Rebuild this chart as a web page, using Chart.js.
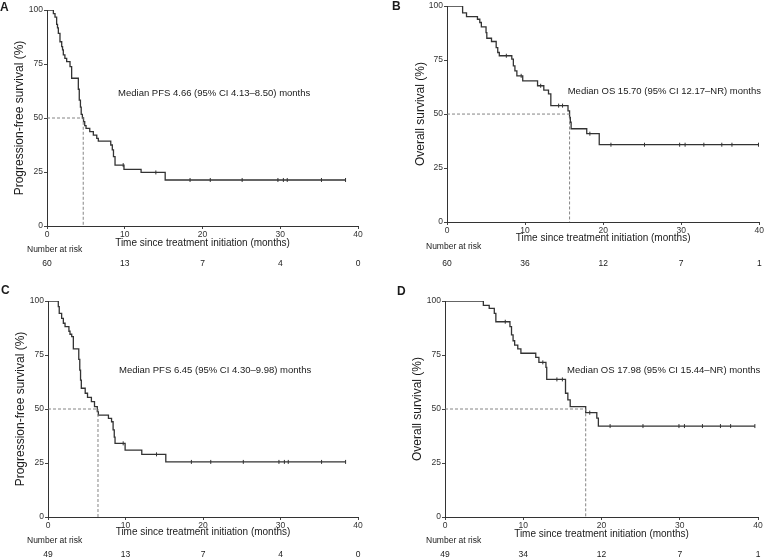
<!DOCTYPE html>
<html>
<head>
<meta charset="utf-8">
<script src="https://cdn.jsdelivr.net/npm/chart.js@4.4.0/dist/chart.umd.min.js"></script>
<style>
  html, body { margin: 0; padding: 0; background: #fff; }
  #wrap { position: relative; width: 765px; height: 558px; }
  canvas { position: absolute; }
</style>
</head>
<body>
<div id="wrap">
  <canvas id="chartA" width="382" height="279" style="left:0;top:0"></canvas>
  <canvas id="chartB" width="383" height="279" style="left:382px;top:0"></canvas>
  <canvas id="chartC" width="382" height="279" style="left:0;top:279px"></canvas>
  <canvas id="chartD" width="383" height="279" style="left:382px;top:279px"></canvas>
</div>
<script>
// shared axis ticks / risk-table times
const riskTimes = [0, 10, 20, 30, 40];

// A - progression-free survival, cohort 1
const timeA = [0, 0.82, 1.03, 1.24, 1.35, 1.46, 1.67, 1.89, 2.0, 2.1, 2.3, 2.53, 2.96, 3.17, 4.03, 4.15, 4.3, 4.4, 4.55, 4.7, 4.85, 5.02, 5.5, 5.96, 6.4, 6.6, 8.2, 8.4, 8.55, 8.75, 9.9, 12.1, 15.2, 38.4];
const survA = [100, 98.3, 96.7, 93.3, 91.7, 89.2, 85.3, 83.0, 81.5, 79.2, 77.6, 76.1, 73.8, 68.4, 63.3, 58.3, 55.0, 51.7, 50.0, 48.3, 46.5, 45.2, 43.7, 42.1, 40.6, 39.3, 37.5, 35.2, 32.1, 28.2, 26.2, 24.8, 21.3, 21.3];
const censorA = [9.8, 14.0, 18.4, 21.0, 25.1, 29.7, 30.4, 30.9, 35.3, 38.4];
const riskA = [60, 13, 7, 4, 0];
const medianA = 4.66;

// B - overall survival, cohort 1
const timeB = [0, 2.0, 2.5, 3.9, 4.2, 4.4, 5.0, 5.1, 5.7, 6.3, 6.5, 6.7, 8.3, 8.5, 8.7, 8.95, 9.7, 11.6, 12.4, 13.0, 13.3, 15.5, 15.7, 15.8, 15.9, 17.9, 19.5, 39.9];
const survB = [100, 96.9, 95.1, 93.9, 92.4, 90.4, 87.7, 85.1, 83.6, 80.8, 78.5, 77.0, 75.4, 72.3, 70.0, 67.7, 65.4, 63.1, 61.1, 59.3, 53.9, 51.5, 48.5, 46.2, 43.2, 40.9, 35.8, 35.8];
const censorB = [7.6, 9.5, 12.0, 14.3, 14.8, 18.3, 21.0, 25.3, 29.8, 30.5, 32.9, 35.2, 36.5, 39.9];
const riskB = [60, 36, 12, 7, 1];
const medianB = 15.70;

// C - progression-free survival, cohort 2
const timeC = [0, 1.33, 1.45, 1.76, 1.98, 2.2, 2.7, 2.84, 3.06, 3.27, 3.97, 4.1, 4.2, 4.3, 4.8, 5.1, 5.6, 6.0, 6.36, 6.5, 7.8, 8.2, 8.4, 8.55, 8.65, 9.95, 12.1, 15.2, 38.4];
const survC = [100, 97.4, 94.3, 92.0, 89.7, 88.1, 86.0, 84.6, 83.5, 77.8, 73.0, 68.0, 63.4, 59.6, 57.3, 55.4, 53.4, 51.1, 48.8, 47.2, 45.7, 44.1, 40.3, 37.0, 34.1, 31.0, 29.0, 25.5, 25.5];
const censorC = [9.7, 14.0, 18.5, 21.0, 25.2, 29.8, 30.5, 31.0, 35.3, 38.4];
const riskC = [49, 13, 7, 4, 0];
const medianC = 6.45;

// D - overall survival, cohort 2
const timeD = [0, 4.9, 5.65, 6.3, 6.5, 8.3, 8.5, 8.7, 8.9, 9.3, 9.7, 11.6, 12.0, 12.9, 13.0, 15.4, 15.7, 16.0, 17.98, 19.4, 19.6, 39.6];
const survD = [100, 98.0, 96.6, 94.3, 90.4, 88.1, 84.3, 81.6, 79.6, 77.8, 75.8, 73.9, 71.6, 69.3, 63.7, 57.3, 54.2, 51.1, 48.3, 45.8, 42.1, 42.1];
const censorD = [7.7, 12.5, 14.3, 15.0, 18.5, 21.1, 25.3, 29.9, 30.6, 32.9, 35.2, 36.5, 39.6];
const riskD = [49, 34, 12, 7, 1];
const medianD = 17.98;

const PFS_TITLE = 'Progression-free survival (%)';
const OS_TITLE = 'Overall survival (%)';
const X_TITLE = 'Time since treatment initiation (months)';
const FONT = '"Liberation Sans", Arial, Helvetica, sans-serif';

function survivalAt(times, surv, t) {
  let s = surv[0];
  for (let i = 0; i < times.length; i++) {
    if (times[i] <= t) s = surv[i];
  }
  return s;
}

const panelText = {
  id: 'panelText',
  afterDraw(chart, args, o) {
    const { ctx, chartArea } = chart;
    const xs = chart.scales.x, ys = chart.scales.y;
    ctx.save();
    ctx.fillStyle = '#1a1a1a';
    ctx.textBaseline = 'middle';
    ctx.textAlign = 'left';
    ctx.font = 'bold 12px ' + FONT;
    ctx.fillText(o.letter, o.letterPos[0], o.letterPos[1]);
    ctx.font = '9.5px ' + FONT;
    ctx.fillText(o.note, xs.getPixelForValue(o.noteAt[0]), ys.getPixelForValue(o.noteAt[1]));
    ctx.font = '8.5px ' + FONT;
    ctx.fillText('Number at risk', o.riskLabelX, chartArea.bottom + o.riskLabelDy);
    ctx.textAlign = 'center';
    o.risk.forEach((n, i) => {
      ctx.fillText(String(n), xs.getPixelForValue(riskTimes[i]), chartArea.bottom + o.riskDy);
    });
    ctx.restore();
  }
};

function makePanel(id, p) {
  const canvas = document.getElementById(id);
  const W = canvas.width, H = canvas.height;
  const steps = p.times.map((t, i) => ({ x: t, y: p.surv[i] }));
  const marks = p.censors.map(t => ({ x: t, y: survivalAt(p.times, p.surv, t) }));
  const dashed = [{ x: 0, y: 50 }, { x: p.median, y: 50 }, { x: p.median, y: 0 }];

  new Chart(canvas, {
    type: 'line',
    data: {
      datasets: [
        { data: dashed, borderColor: '#777', borderWidth: 0.9, borderDash: [3, 2], pointRadius: 0, fill: false },
        { data: steps, stepped: 'before', borderColor: '#333', borderWidth: 1.3, pointRadius: 0, fill: false },
        { data: marks, showLine: false, pointStyle: 'line', pointRotation: 90, pointRadius: 2,
          pointBorderColor: '#333', pointBorderWidth: 1 }
      ]
    },
    options: {
      responsive: false,
      animation: false,
      events: [],
      layout: { padding: { left: 0, top: p.box.top, right: W - p.box.right, bottom: 0 } },
      plugins: {
        legend: { display: false },
        tooltip: { enabled: false },
        panelText: p.text
      },
      scales: {
        x: {
          type: 'linear', min: 0, max: 40,
          ticks: { stepSize: 10, color: '#333', font: { size: 8.5, family: FONT }, padding: 1, maxRotation: 0 },
          grid: { drawOnChartArea: false, tickLength: 3, color: '#444' },
          border: { color: '#333', width: 1 },
          title: { display: true, text: X_TITLE, color: '#1a1a1a', font: { size: 10, family: FONT },
                   padding: { top: 0, bottom: p.xTitlePad } },
          afterFit: s => { s.height = H - p.box.bottom; }
        },
        y: {
          min: 0, max: 100,
          ticks: { stepSize: 25, color: '#333', font: { size: 8.5, family: FONT }, padding: 1 },
          grid: { drawOnChartArea: false, tickLength: 3, color: '#444' },
          border: { color: '#333', width: 1 },
          title: { display: true, text: p.yTitle, color: '#1a1a1a', font: { size: 12, family: FONT },
                   padding: { top: p.yTitlePad, bottom: 0 } },
          afterFit: s => { s.width = p.box.left; }
        }
      }
    },
    plugins: [panelText]
  });
}

makePanel('chartA', {
  times: timeA, surv: survA, censors: censorA, median: medianA,
  box: { left: 47, right: 358, top: 10, bottom: 226 },
  yTitle: PFS_TITLE, yTitlePad: 12, xTitlePad: 30,
  text: { letter: 'A', letterPos: [0, 8], note: 'Median PFS 4.66 (95% CI 4.13\u20138.50) months',
          noteAt: [9.14, 61.6], risk: riskA, riskLabelX: 27, riskLabelDy: 24, riskDy: 38 }
});
makePanel('chartB', {
  times: timeB, surv: survB, censors: censorB, median: medianB,
  box: { left: 65, right: 378, top: 5, bottom: 222 },
  yTitle: OS_TITLE, yTitlePad: 31, xTitlePad: 34.5,
  text: { letter: 'B', letterPos: [10, 7], note: 'Median OS 15.70 (95% CI 12.17\u2013NR) months',
          noteAt: [15.46, 60.4], risk: riskB, riskLabelX: 44, riskLabelDy: 25, riskDy: 42 }
});
makePanel('chartC', {
  times: timeC, surv: survC, censors: censorC, median: medianC,
  box: { left: 48, right: 358, top: 22, bottom: 238 },
  yTitle: PFS_TITLE, yTitlePad: 13, xTitlePad: 19.5,
  text: { letter: 'C', letterPos: [1, 12], note: 'Median PFS 6.45 (95% CI 4.30\u20139.98) months',
          noteAt: [9.16, 68.1], risk: riskC, riskLabelX: 27, riskLabelDy: 24, riskDy: 38 }
});
makePanel('chartD', {
  times: timeD, surv: survD, censors: censorD, median: medianD,
  box: { left: 63, right: 376, top: 22, bottom: 238 },
  yTitle: OS_TITLE, yTitlePad: 28, xTitlePad: 18,
  text: { letter: 'D', letterPos: [15, 13], note: 'Median OS 17.98 (95% CI 15.44\u2013NR) months',
          noteAt: [15.6, 68.1], risk: riskD, riskLabelX: 44, riskLabelDy: 24, riskDy: 38 }
});
</script>
</body>
</html>
